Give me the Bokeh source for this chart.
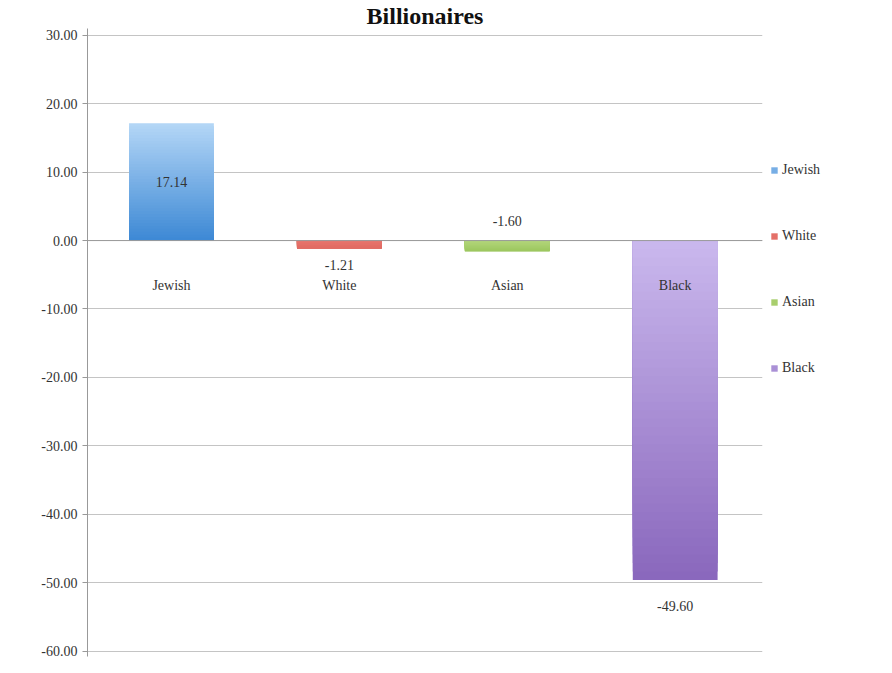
import numpy as np
from bokeh.plotting import figure
from bokeh.models import (Range1d, FixedTicker, NumeralTickFormatter, Legend,
                          LegendItem, ColumnDataSource, Span, Title)
from bokeh.core.properties import value
from bokeh.embed import file_html
from bokeh.resources import INLINE

# ---- data ----
title_text = "Billionaires"
categories = ["Jewish", "White", "Asian", "Black"]
values = [17.14, -1.21, -1.60, -49.60]
y_ticks = [-60, -50, -40, -30, -20, -10, 0, 10, 20, 30]

# ---- styles ----
top_colors = ["#b3d6f6", "#e8766e", "#b3d67c", "#cbb9ee"]
bottom_colors = ["#3b87d4", "#e06a62", "#9cc65e", "#8a68bd"]
FONT = "Liberation Serif"

def hex2rgb(h):
    h = h.lstrip("#")
    return np.array([int(h[i:i + 2], 16) for i in (0, 2, 4)], dtype=float)

def rgb2hex(c):
    return "#%02x%02x%02x" % tuple(int(round(v)) for v in c)

p = figure(frame_width=675, frame_height=628,
           x_range=Range1d(0.5, 4.52), y_range=Range1d(-60.8, 31.0),
           output_backend="svg", toolbar_location=None,
           min_border_left=87, min_border_top=0, min_border_bottom=4,
           min_border_right=0, outline_line_color=None, title=None)

p.add_layout(Title(text=title_text, align="center", text_font=FONT,
                   text_font_size="24px", text_font_style="bold",
                   text_color="#111111", offset=18, standoff=0), "above")

p.xaxis.visible = False
p.xgrid.grid_line_color = None
p.ygrid.ticker = FixedTicker(ticks=y_ticks)
p.ygrid.grid_line_color = "#c4c4c4"
p.yaxis.ticker = FixedTicker(ticks=y_ticks)
p.yaxis.formatter = NumeralTickFormatter(format="0.00")
p.yaxis.major_label_text_font = FONT
p.yaxis.major_label_text_font_size = "14px"
p.yaxis.major_label_text_color = "#333333"
p.yaxis.axis_line_color = "#999999"
p.yaxis.major_tick_line_color = "#999999"
p.yaxis.major_tick_in = 0
p.yaxis.major_tick_out = 5
p.yaxis.minor_tick_line_color = None

bar_w = 0.505
n_slices = 40
legend_items = []
for i, (cat, v) in enumerate(zip(categories, values)):
    xc = i + 1
    # nested rectangles from the zero line outwards; the largest is drawn first
    edges = np.linspace(0, v, n_slices + 1)[1:][::-1]
    lo = np.minimum(0, edges)
    hi = np.maximum(0, edges)
    vmax, vmin = max(v, 0), min(v, 0)
    t = (vmax - edges) / (vmax - vmin)
    c0, c1 = hex2rgb(top_colors[i]), hex2rgb(bottom_colors[i])
    cols = [rgb2hex(c0 + (c1 - c0) * tt) for tt in t]
    src = ColumnDataSource(dict(left=[xc - bar_w / 2] * n_slices,
                                right=[xc + bar_w / 2] * n_slices,
                                bottom=lo, top=hi, color=cols))
    r = p.quad(left="left", right="right", bottom="bottom", top="top",
               fill_color="color", line_color=None, source=src)
    legend_items.append(LegendItem(label=cat, renderers=[r], index=n_slices // 2))

zero = Span(location=0, dimension="width", line_color="#9a9a9a", line_width=1)
p.add_layout(zero)

# category labels (just below zero line)
p.text(x=[i + 1 for i in range(len(categories))], y=[-6.5] * len(categories),
       text=categories, text_align="center", text_baseline="middle",
       text_font=value(FONT), text_font_size="14px", text_color="#333333")

# value labels
lab_y = []
for v in values:
    if v > 5:
        lab_y.append(v / 2)
    elif v < -20:
        lab_y.append(v - 3.8)
    else:
        lab_y.append(None)
lab_y[1] = -3.6   # White label sits just above category name
lab_y[2] = 2.8    # Asian label sits above the bar
p.text(x=[i + 1 for i in range(len(values))], y=lab_y,
       text=["%.2f" % v for v in values], text_align="center",
       text_baseline="middle", text_font=value(FONT), text_font_size="14px",
       text_color="#333333")

legend = Legend(items=legend_items, location=(8, 280), orientation="vertical",
                glyph_width=8, glyph_height=8, label_height=14, spacing=50,
                label_text_font=FONT, label_text_font_size="14px",
                label_text_color="#333333", border_line_color=None,
                background_fill_alpha=0, padding=4, margin=0,
                label_standoff=4)
p.add_layout(legend, "right")

open("out.html", "w").write(file_html(p, INLINE))
